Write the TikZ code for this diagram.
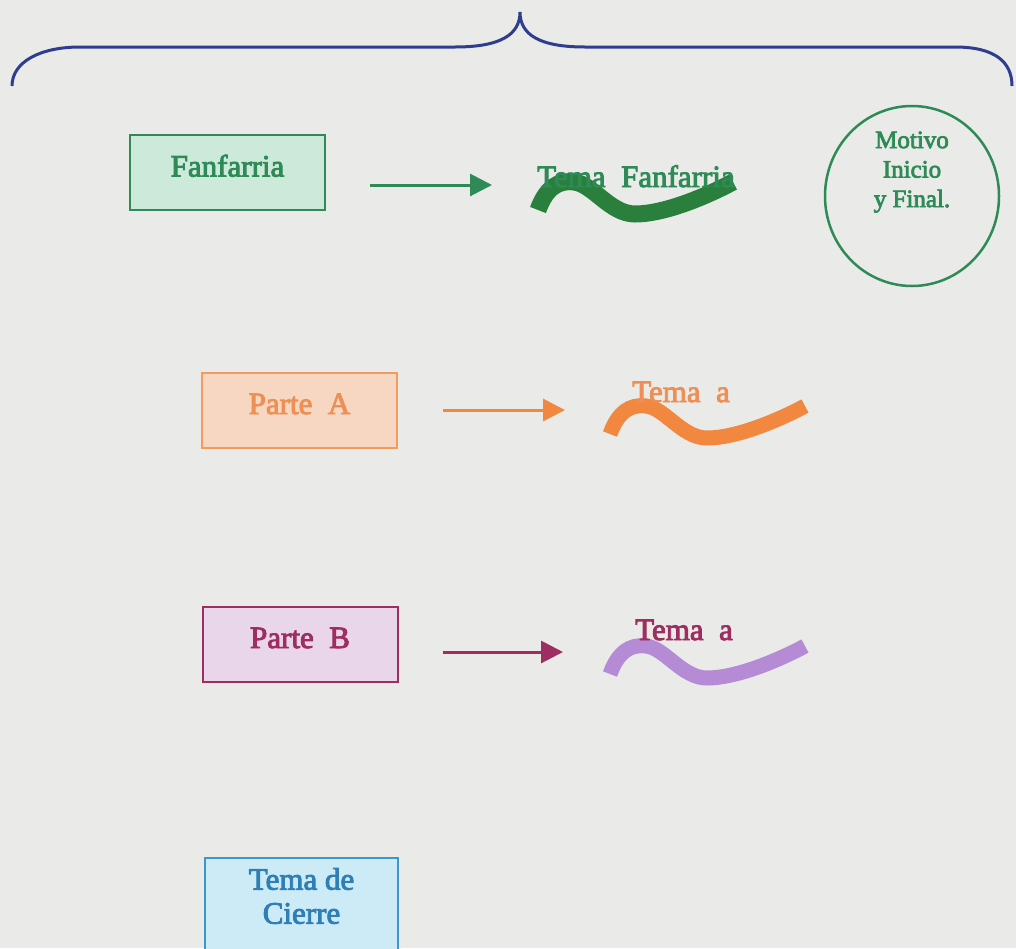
\documentclass[tikz,border=0pt]{standalone}
\usepackage{fontspec}
\setmainfont{Liberation Serif}
\newfontfamily\inkfont{Liberation Serif}[FakeBold=3]
\usetikzlibrary{arrows.meta,shapes.geometric}

\definecolor{paper}{HTML}{EAEAE8}
\definecolor{braceblue}{HTML}{2E3D8E}
\definecolor{fandk}{HTML}{2E8B57}
\definecolor{fanfill}{HTML}{CDE9D9}
\definecolor{fanwave}{HTML}{2B7F3C}
\definecolor{oraline}{HTML}{F39A5E}
\definecolor{orafill}{HTML}{F7D6C2}
\definecolor{oratext}{HTML}{EE9055}
\definecolor{orawave}{HTML}{F2873F}
\definecolor{plum}{HTML}{9E2E62}
\definecolor{plumfill}{HTML}{EAD6EA}
\definecolor{lilac}{HTML}{B58BD6}
\definecolor{skyline}{HTML}{3D97CC}
\definecolor{skyfill}{HTML}{CDEBF7}
\definecolor{skytext}{HTML}{2E7FB5}

\tikzset{
  partbox/.style={draw, line width=2pt, minimum width=195pt, minimum height=75pt,
    inner sep=0pt, text height=20pt, text depth=12pt,
    font=\inkfont\fontsize{31}{36}\selectfont},
  lbl/.style={inner sep=0pt, font=\inkfont\fontsize{31}{36}\selectfont},
  arr/.style={line width=3pt, -{Triangle[length=22pt,width=22pt]}},
  wavewidth/.style={line width=15pt},
  squiggle/.pic={
    \draw[wavewidth]
      (0,0) .. controls (8,-22) and (20,-30) .. (36,-28)
            .. controls (55,-26) and (72,4) .. (97,4)
            .. controls (125,4) and (165,-12) .. (195,-28);
  }
}

\begin{document}
\begin{tikzpicture}[x=1pt,y=-1pt]
\useasboundingbox (0,0) rectangle (1016,948);
\fill[paper] (0,0) rectangle (1016,948);

% overarching brace
\draw[braceblue, line width=3pt]
  (12,86) .. controls (12,62) and (40,47) .. (80,47) -- (455,47)
  .. controls (500,47) and (520,35) .. (520,12)
  .. controls (520,35) and (540,47) .. (585,47) -- (955,47)
  .. controls (995,47) and (1012,62) .. (1012,86);

% Fanfarria row
\node[partbox, draw=fandk, fill=fanfill, text=fandk] (fan) at (227.5,172.5) {Fanfarria};
\coordinate (a1s) at (370,185);
\coordinate (a1e) at (492,185);
\draw[arr, fandk] (a1s) -- (a1e);
\pic[fanwave, wavewidth/.style={line width=17pt}] at (538,210) {squiggle};
\node[lbl, text=fandk, anchor=base west] (tf) at (537,187) {Tema~~Fanfarria};

\node[draw=fandk, line width=2.5pt, ellipse, minimum width=174pt, minimum height=180pt,
  inner sep=0pt] (motivo) at (912,196) {};
\node[text=fandk, align=center, inner sep=0pt, font=\inkfont\fontsize{25}{29.5}\selectfont]
  (motivotxt) at (912,172) {Motivo\\Inicio\\y Final.};

% Parte A row
\node[partbox, draw=oraline, fill=orafill, text=oratext] (pa) at (299.5,410) {Parte~~A};
\coordinate (a2s) at (443,410);
\coordinate (a2e) at (565,410);
\draw[arr, orawave] (a2s) -- (a2e);
\pic[orawave] at (610,434) {squiggle};
\node[lbl, text=oratext, anchor=base west] (ta) at (632,402) {Tema~~a};

% Parte B row
\node[partbox, draw=plum, fill=plumfill, text=plum] (pb) at (300,644) {Parte~~B};
\coordinate (a3s) at (443,652);
\coordinate (a3e) at (563,652);
\draw[arr, plum] (a3s) -- (a3e);
\pic[lilac] at (610,674) {squiggle};
\node[lbl, text=plum, anchor=base west] (tb) at (635,640) {Tema~~a};

% closing theme box (runs past the lower edge)
\node[draw=skyline, fill=skyfill, line width=2pt, minimum width=193pt, minimum height=115pt,
  inner sep=0pt, anchor=north] (cierrebox) at (301.5,857) {};
\node[text=skytext, align=center, inner sep=0pt, font=\inkfont\fontsize{31}{34}\selectfont]
  (cierre) at (301.5,896) {Tema de\\Cierre};
\end{tikzpicture}
\end{document}
